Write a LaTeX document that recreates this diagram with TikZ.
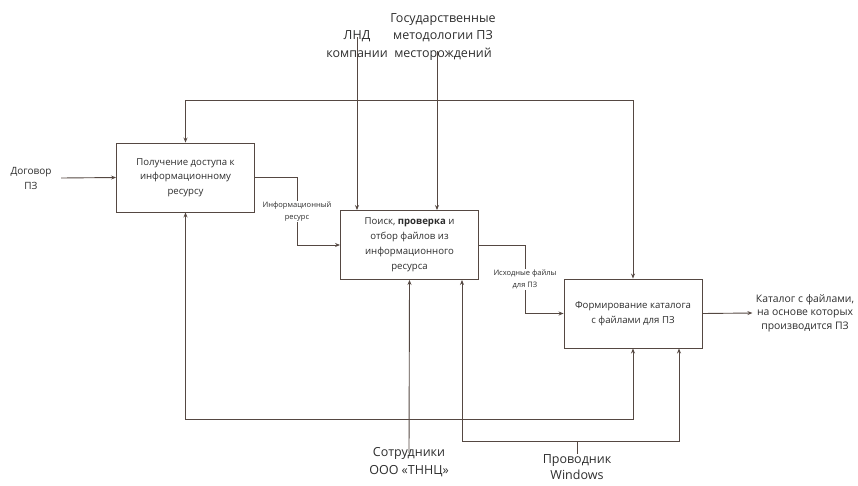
\documentclass[tikz,border=0pt]{standalone}
\usepackage{fontspec}
\setmainfont{Open Sans}
\usepackage{tikz}
\usetikzlibrary{arrows.meta,positioning,calc}
\definecolor{linecol}{RGB}{85,72,66}
\definecolor{textcol}{RGB}{45,45,45}

\begin{document}
\begin{tikzpicture}[x=1pt,y=-1pt,>={Stealth[length=5pt,width=4pt]},font=\fontsize{9.6}{14.5}\selectfont,text=textcol]
        \tikzstyle{func}=[rectangle,minimum width=138pt,minimum height=69pt,draw=linecol,line width=0.9pt,align=center,fill=white]
        \tikzstyle{ext}=[align=center,font=\fontsize{12.5}{17.5}\selectfont]
        \tikzstyle{side}=[align=center,font=\fontsize{10}{15}\selectfont]
        \tikzstyle{lbl}=[align=center,font=\fontsize{7.5}{12}\selectfont,fill=white,inner sep=1pt]
        \tikzstyle{arr}=[draw=linecol,line width=0.9pt]
        \useasboundingbox (0,0) rectangle (858,485);
        % functions
        \node[func] (access) at (185.5,177.5) {Получение доступа к\\информационному\\ресурсу};
        \node[func,font=\fontsize{9.6}{15}\selectfont] (select) at (409.5,245) {Поиск, \textbf{проверка} и\\отбор файлов из\\информационного\\ресурса};
        \node[func] (catalog) at (633,313.5) {Формирование каталога\\с файлами для ПЗ};
        % inputs, controls, mechanisms, outputs
        \node[side] (contract) at (31,178) {Договор\\ПЗ};
        \node[ext] (lnd) at (357,44) {ЛНД\\компании};
        \node[ext] (method) at (443,37) {Государственные\\методологии ПЗ\\месторождений};
        \node[ext] (staff) at (409,462) {Сотрудники\\ООО «ТННЦ»};
        \node[ext,font=\fontsize{12.5}{16.5}\selectfont] (explorer) at (577,467) {Проводник\\Windows};
        \node[side,font=\fontsize{10.4}{13.5}\selectfont] (result) at (805,313) {Каталог с файлами,\\на основе которых\\производится ПЗ};
        \coordinate (topline) at (0,100);
        \coordinate (botline) at (0,419);
        \coordinate (mechline) at (0,441);
        % connectors
        \draw[arr,->] ([xshift=6]contract.east) -- (access.west);
        \draw[arr,<->] (access.north) -- (access.north |- topline) -| (catalog.north);
        \draw[arr,->] ([yshift=24]lnd.south) -- (lnd |- select.north);
        \draw[arr,->] ([xshift=-6,yshift=13]method.south) -- ([xshift=-6]method.south |- select.north);
        \draw[arr,->] (access.east) -- ++(42,0) |- node[pos=0.25,lbl]{Информационный\\ресурс} (select.west);
        \draw[arr,->] (select.east) -- ++(46,0) |- node[pos=0.25,lbl]{Исходные файлы\\для ПЗ} (catalog.west);
        \draw[arr,->] (catalog.east) -- (result.west);
        \draw[arr,->] ([yshift=-9]staff.north) -- (select.south);
        \draw[arr,<->] (access.south) -- (access.south |- botline) -| (catalog.south);
        \draw[arr,<->] ([xshift=52.5]select.south) -- ([xshift=52.5]select.south |- mechline) -| ([xshift=46]catalog.south);
        \draw[arr] ([yshift=-3]explorer.north) -- (explorer |- mechline);
\end{tikzpicture}
\end{document}
